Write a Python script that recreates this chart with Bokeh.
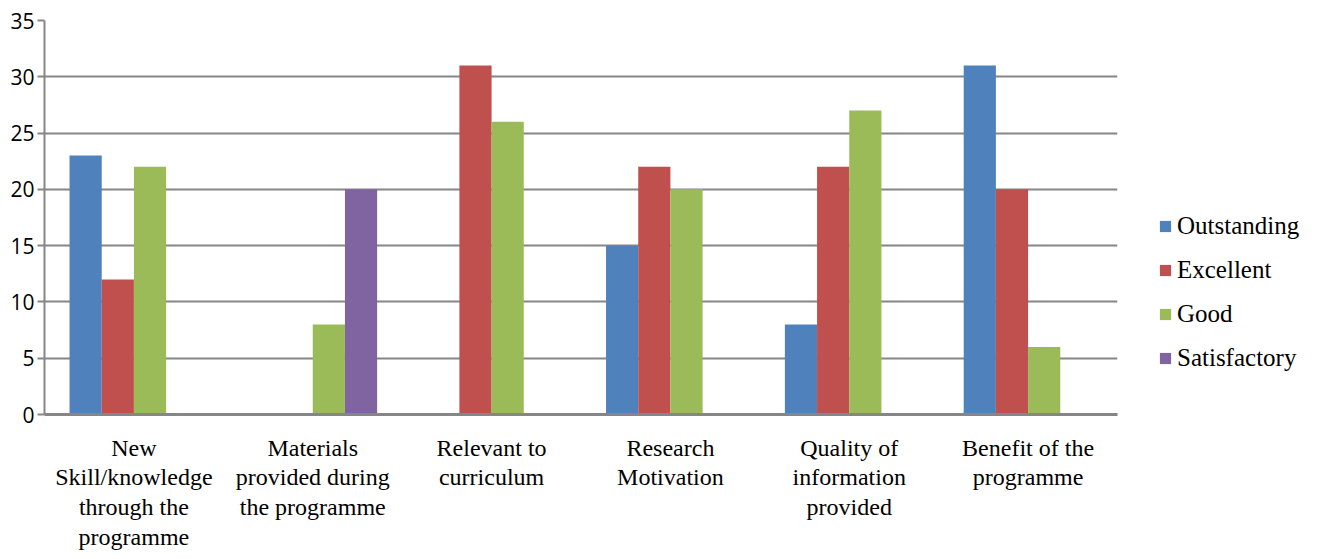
from bokeh.plotting import figure
from bokeh.models import ColumnDataSource, FactorRange, FixedTicker, Legend, LegendItem
from bokeh.transform import dodge
from bokeh.embed import file_html
from bokeh.resources import INLINE

categories = [
    "New\nSkill/knowledge\nthrough the\nprogramme",
    "Materials\nprovided during\nthe programme",
    "Relevant to\ncurriculum",
    "Research\nMotivation",
    "Quality of\ninformation\nprovided",
    "Benefit of the\nprogramme",
]
series_names = ["Outstanding", "Excellent", "Good", "Satisfactory"]
outstanding = [23, 0, 0, 15, 8, 31]
excellent = [12, 0, 31, 22, 22, 20]
good = [22, 8, 26, 20, 27, 6]
satisfactory = [0, 20, 0, 0, 0, 0]
y_ticks = [0, 5, 10, 15, 20, 25, 30, 35]

colors = ["#4F81BD", "#C0504D", "#9BBB59", "#8064A2"]
series_values = [outstanding, excellent, good, satisfactory]

p = figure(
    x_range=FactorRange(*categories, range_padding=0),
    y_range=(0, 35),
    frame_width=1073,
    frame_height=394,
    output_backend="svg",
    toolbar_location=None,
    min_border_left=44,
    min_border_top=20,
    min_border_bottom=0,
    min_border_right=0,
)
p.x_range.factor_padding = 0

offsets = [-0.27, -0.09, 0.09, 0.27]
items = []
for name, vals, col, off in zip(series_names, series_values, colors, offsets):
    src = ColumnDataSource(dict(cat=categories, val=vals))
    r = p.vbar(x=dodge("cat", off, range=p.x_range), top="val", width=0.18,
               source=src, fill_color=col, line_color=None)
    items.append(LegendItem(label=name, renderers=[r]))

legend = Legend(items=items, location=(41, 41), orientation="vertical")
legend.border_line_color = None
legend.background_fill_alpha = 0
legend.margin = 0
legend.padding = 0
legend.spacing = 14
legend.label_height = 30
legend.glyph_width = 14
legend.glyph_height = 14
legend.label_standoff = 5
legend.label_text_font = "Liberation Serif"
legend.label_text_font_size = "25px"
legend.label_text_color = "#000000"
p.add_layout(legend, "right")

p.outline_line_color = None
p.xgrid.grid_line_color = None
p.ygrid.grid_line_color = "#868686"
p.ygrid.grid_line_width = 2
p.yaxis.ticker = FixedTicker(ticks=y_ticks)
p.yaxis.minor_tick_line_color = None
p.yaxis.major_tick_out = 7
p.yaxis.major_tick_in = 0
p.yaxis.major_tick_line_color = "#868686"
p.yaxis.major_tick_line_width = 2
p.yaxis.axis_line_color = "#868686"
p.yaxis.axis_line_width = 2
p.yaxis.major_label_standoff = 3
p.yaxis.major_label_text_font = "Open Sans"
p.yaxis.major_label_text_font_size = "21px"
p.yaxis.major_label_text_color = "#000000"

p.xaxis.major_tick_line_color = None
p.xaxis.minor_tick_line_color = None
p.xaxis.axis_line_color = "#868686"
p.xaxis.axis_line_width = 3
p.xaxis.major_label_standoff = 14
p.xaxis.major_label_text_font = "Liberation Serif"
p.xaxis.major_label_text_font_size = "24px"
p.xaxis.major_label_text_line_height = 1.15
p.xaxis.major_label_text_color = "#000000"

open("out.html", "w").write(file_html(p, INLINE))
